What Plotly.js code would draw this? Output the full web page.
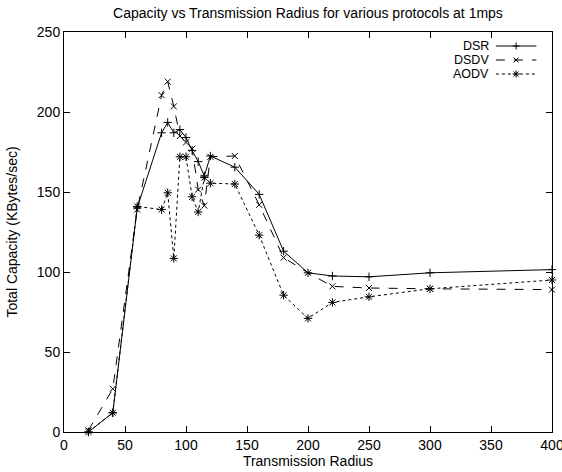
<!DOCTYPE html>
<html>
<head>
<meta charset="utf-8">
<script src="https://cdn.plot.ly/plotly-3.0.1.min.js"></script>
<style>
  html, body { margin: 0; padding: 0; background: #fff; }
  #chart { width: 562px; height: 472px; }
</style>
</head>
<body>
<div id="chart"></div>
<script>
// Transmission radius values (x) shared by all three protocols
const radius = [20, 40, 60, 80, 85, 90, 95, 100, 105, 110, 115, 120, 140, 160, 180, 200, 220, 250, 300, 400];

// Total capacity in KBytes/sec for each protocol
const dsr  = [0, 12, 140, 187, 193.5, 187, 189, 184, 176, 169, 160, 172.5, 165.5, 148.5, 113, 99.5, 97.5, 97, 99.5, 101.5];
const dsdv = [1, 27, 139, 210.5, 219, 203.5, 185, 181, 177, 151.5, 141.5, 172, 172.5, 142, 109, 99.5, 91, 90, 89.5, 89];
const aodv = [0, 12, 141, 139, 149.5, 108.5, 172, 172, 147, 137.5, 159, 155.5, 155, 123, 85.5, 71, 81, 84.5, 89.5, 95];

const seriesNames = ['DSR', 'DSDV', 'AODV'];
const seriesData = [dsr, dsdv, aodv];
const lineDash = ['solid', 'dash', 'dot'];
const markerSymbol = ['cross-thin-open', 'x-thin-open', 'asterisk-open'];
const markerSize = [6, 6, 7];

const FONT = 'Liberation Sans, Arial, Helvetica, sans-serif';

const traces = seriesData.map((vals, i) => ({
  type: 'scatter',
  mode: 'lines+markers',
  name: seriesNames[i],
  x: radius,
  y: vals,
  line: { color: '#000', width: 1, dash: lineDash[i] },
  marker: { symbol: markerSymbol[i], size: markerSize[i], color: '#000', line: { color: '#000', width: 1 } },
  showlegend: false,
  cliponaxis: false
}));

// Key in the upper right: label, then a short line sample with its marker
const keyRows = [0.965, 0.93, 0.895];
const annotations = [];
const shapes = [];
seriesNames.forEach((name, i) => {
  shapes.push({
    type: 'line', xref: 'paper', yref: 'paper',
    x0: 0.885, x1: 0.968, y0: keyRows[i], y1: keyRows[i],
    line: { color: '#000', width: 1, dash: lineDash[i] }
  });
  traces.push({
    type: 'scatter', mode: 'markers', xaxis: 'x2', yaxis: 'y2',
    x: [0.9265], y: [keyRows[i]],
    marker: { symbol: markerSymbol[i], size: markerSize[i] - 1, color: '#000', line: { color: '#000', width: 1 } },
    showlegend: false, hoverinfo: 'skip', cliponaxis: false
  });
  annotations.push({
    xref: 'paper', yref: 'paper', x: 0.872, y: keyRows[i],
    xanchor: 'right', yanchor: 'middle', showarrow: false,
    borderpad: 0,
    text: name, font: { family: FONT, size: 12.5, color: '#000' }
  });
});

const layout = {
  width: 562, height: 472,
  margin: { l: 64, r: 10, t: 32, b: 40 },
  paper_bgcolor: '#fff', plot_bgcolor: '#fff',
  font: { family: FONT, size: 14, color: '#000' },
  title: {
    text: 'Capacity vs Transmission Radius for various protocols at 1mps',
    font: { family: FONT, size: 14, color: '#000' },
    x: 0.548, xanchor: 'center', y: 0.972, yanchor: 'middle'
  },
  xaxis: {
    range: [0, 400], tick0: 0, dtick: 50,
    showline: true, linecolor: '#000', linewidth: 1, mirror: 'ticks',
    ticks: 'inside', ticklen: 6, tickcolor: '#000', tickwidth: 1,
    showgrid: false, zeroline: false, ticklabeloverflow: 'allow',
    tickfont: { family: FONT, size: 14, color: '#000' },
    title: { text: 'Transmission Radius', font: { family: FONT, size: 14, color: '#000' }, standoff: 2 }
  },
  yaxis: {
    range: [0, 250], tick0: 0, dtick: 50,
    showline: true, linecolor: '#000', linewidth: 1, mirror: 'ticks',
    ticks: 'inside', ticklen: 6, tickcolor: '#000', tickwidth: 1,
    showgrid: false, zeroline: false, ticklabeloverflow: 'allow',
    tickfont: { family: FONT, size: 14, color: '#000' },
    title: { text: 'Total Capacity (KBytes/sec)', font: { family: FONT, size: 14, color: '#000' }, standoff: 15 }
  },
  xaxis2: { overlaying: 'x', range: [0, 1], visible: false, fixedrange: true },
  yaxis2: { overlaying: 'y', range: [0, 1], visible: false, fixedrange: true },
  shapes: shapes,
  annotations: annotations,
  showlegend: false
};

Plotly.newPlot('chart', traces, layout, { displayModeBar: false, staticPlot: true });
</script>
</body>
</html>
